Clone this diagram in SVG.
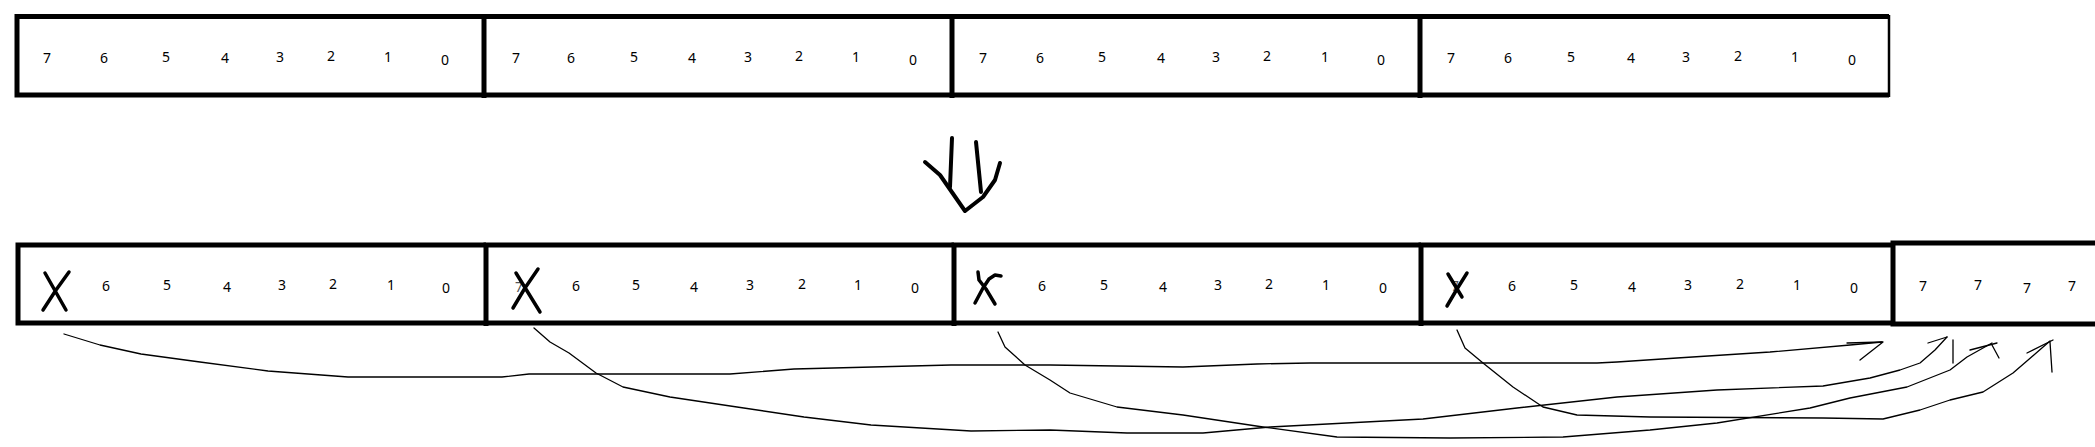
<svg xmlns="http://www.w3.org/2000/svg" width="2095" height="447" viewBox="0 0 2095 447">
<style>
.box{fill:none;stroke:#000;stroke-width:5;stroke-linejoin:miter}
.thin{fill:none;stroke:#000;stroke-width:2.5}
.d{font-family:"Noto Sans","Liberation Sans",sans-serif;font-size:14px;fill:#000;text-anchor:middle}
.ghost{fill:#555}
.x{fill:none;stroke:#000;stroke-width:3.5;stroke-linecap:round;stroke-linejoin:round}
.c{fill:none;stroke:#000;stroke-width:1.3;stroke-linecap:round;stroke-linejoin:round}
.arr{fill:none;stroke:#000;stroke-width:4;stroke-linecap:round;stroke-linejoin:round}
</style>
<rect width="2095" height="447" fill="#fff"/>

<!-- top row -->
<g id="top-byte-1">
<path class="box" d="M484,16.5 H17 V95 H484"/>
<text class="d" x="47" y="63">7</text><text class="d" x="104" y="63">6</text><text class="d" x="166" y="62">5</text><text class="d" x="225" y="63">4</text><text class="d" x="280" y="62">3</text><text class="d" x="331" y="61">2</text><text class="d" x="388" y="62">1</text><text class="d" x="445" y="65">0</text>
</g>
<g id="top-byte-2">
<path class="box" d="M484,16.5 H952 M484,95 H952 M484,14 V98"/>
<text class="d" x="516" y="63">7</text><text class="d" x="571" y="63">6</text><text class="d" x="634" y="62">5</text><text class="d" x="692" y="63">4</text><text class="d" x="748" y="62">3</text><text class="d" x="799" y="61">2</text><text class="d" x="856" y="62">1</text><text class="d" x="913" y="65">0</text>
</g>
<g id="top-byte-3">
<path class="box" d="M952,16.5 H1420 M952,95 H1420 M952,14 V98"/>
<text class="d" x="983" y="63">7</text><text class="d" x="1040" y="63">6</text><text class="d" x="1102" y="62">5</text><text class="d" x="1161" y="63">4</text><text class="d" x="1216" y="62">3</text><text class="d" x="1267" y="61">2</text><text class="d" x="1325" y="62">1</text><text class="d" x="1381" y="65">0</text>
</g>
<g id="top-byte-4">
<path class="box" d="M1420,16.5 H1889 M1420,95 H1889 M1420,14 V98"/>
<line class="thin" x1="1889" y1="15" x2="1889" y2="97"/>
<text class="d" x="1451" y="63">7</text><text class="d" x="1508" y="63">6</text><text class="d" x="1571" y="62">5</text><text class="d" x="1631" y="63">4</text><text class="d" x="1686" y="62">3</text><text class="d" x="1738" y="61">2</text><text class="d" x="1795" y="62">1</text><text class="d" x="1852" y="65">0</text>
</g>

<!-- down arrow -->
<g id="down-arrow">
<path class="arr" d="M952,138 L950,187"/>
<path class="arr" d="M976,142 L981,192"/>
<path class="arr" d="M925,162 L940,175 L965,211 L983,197 L995,180 L1000,163"/>
</g>

<!-- bottom row -->
<g id="bottom-byte-1">
<path class="box" d="M486,245 H18 V323 H486"/>
<text class="d" x="106" y="291">6</text><text class="d" x="167" y="290">5</text><text class="d" x="227" y="292">4</text><text class="d" x="282" y="290">3</text><text class="d" x="333" y="289">2</text><text class="d" x="391" y="290">1</text><text class="d" x="446" y="293">0</text>
<path class="x" d="M45,273 L66,310 M69,272 L56,290 L43,310"/>
</g>
<g id="bottom-byte-2">
<path class="box" d="M486,245 H954 M486,323 H954 M486,242.5 V326"/>
<text class="d ghost" x="519" y="292">7</text>
<text class="d" x="576" y="291">6</text><text class="d" x="636" y="290">5</text><text class="d" x="694" y="292">4</text><text class="d" x="750" y="290">3</text><text class="d" x="802" y="289">2</text><text class="d" x="858" y="290">1</text><text class="d" x="915" y="293">0</text>
<path class="x" d="M516,273 L540,312 M538,269 L525,288 L513,308"/>
</g>
<g id="bottom-byte-3">
<path class="box" d="M954,245 H1421 M954,323 H1421 M954,242.5 V326"/>
<text class="d" x="1042" y="291">6</text><text class="d" x="1104" y="290">5</text><text class="d" x="1163" y="292">4</text><text class="d" x="1218" y="290">3</text><text class="d" x="1269" y="289">2</text><text class="d" x="1326" y="290">1</text><text class="d" x="1383" y="293">0</text>
<path class="x" d="M978,272 L979,280 L986,289 L995,304 M1001,276 L995,275 L989,279 L983,288 L975,303"/>
</g>
<g id="bottom-byte-4">
<path class="box" d="M1421,245 H1893 M1421,323 H1893 M1421,242.5 V326"/>
<text class="d ghost" x="1455" y="291">7</text>
<text class="d" x="1512" y="291">6</text><text class="d" x="1574" y="290">5</text><text class="d" x="1632" y="292">4</text><text class="d" x="1688" y="290">3</text><text class="d" x="1740" y="289">2</text><text class="d" x="1797" y="290">1</text><text class="d" x="1854" y="293">0</text>
<path class="x" d="M1448,274 L1462,297 M1467,273 L1457,289 L1447,306"/>
</g>
<g id="bottom-sign-byte">
<path class="box" d="M2100,243 H1893 V324 H2100"/>
<text class="d" x="1923" y="291">7</text><text class="d" x="1978" y="290">7</text><text class="d" x="2027" y="293">7</text><text class="d" x="2072" y="291">7</text>
</g>

<!-- connectors -->
<g id="connectors">
<path class="c" d="M64,334 L100,345 L141,354 L200,362 L268,371 L348,377 L502,377 L529,374 L730,374 L794,369 L951,365 L1050,365 L1183,367 L1257,364 L1310,363 L1597,363 L1617,362 L1677,358 L1770,352 L1850,345 L1882,342"/>
<path class="c" d="M1847,343 L1883,342 L1860,360"/>
<path class="c" d="M534,328 L550,342 L569,353 L596,373 L623,387 L670,397 L737,407 L804,417 L871,425 L971,431 L1050,430 L1127,433 L1203,433 L1270,427 L1423,419 L1517,408 L1617,397 L1717,390 L1823,386 L1870,378 L1900,370 L1920,363 L1935,350 L1947,337"/>
<path class="c" d="M1928,343 L1947,337 M1953,340 L1953,363"/>
<path class="c" d="M998,332 L1005,347 L1025,365 L1050,380 L1070,393 L1117,407 L1183,415 L1263,427 L1337,437 L1450,438 L1563,437 L1650,430 L1717,423 L1810,408 L1850,398 L1907,387 L1950,370 L1967,357 L1992,343"/>
<path class="c" d="M1970,350 L1997,343 M1992,345 L1999,358"/>
<path class="c" d="M1457,330 L1465,348 L1483,363 L1513,387 L1543,407 L1577,415 L1650,417 L1823,418 L1883,419 L1920,410 L1950,400 L1983,392 L2013,373 L2050,341"/>
<path class="c" d="M2027,353 L2053,340 M2050,342 L2052,372"/>
</g>
</svg>
